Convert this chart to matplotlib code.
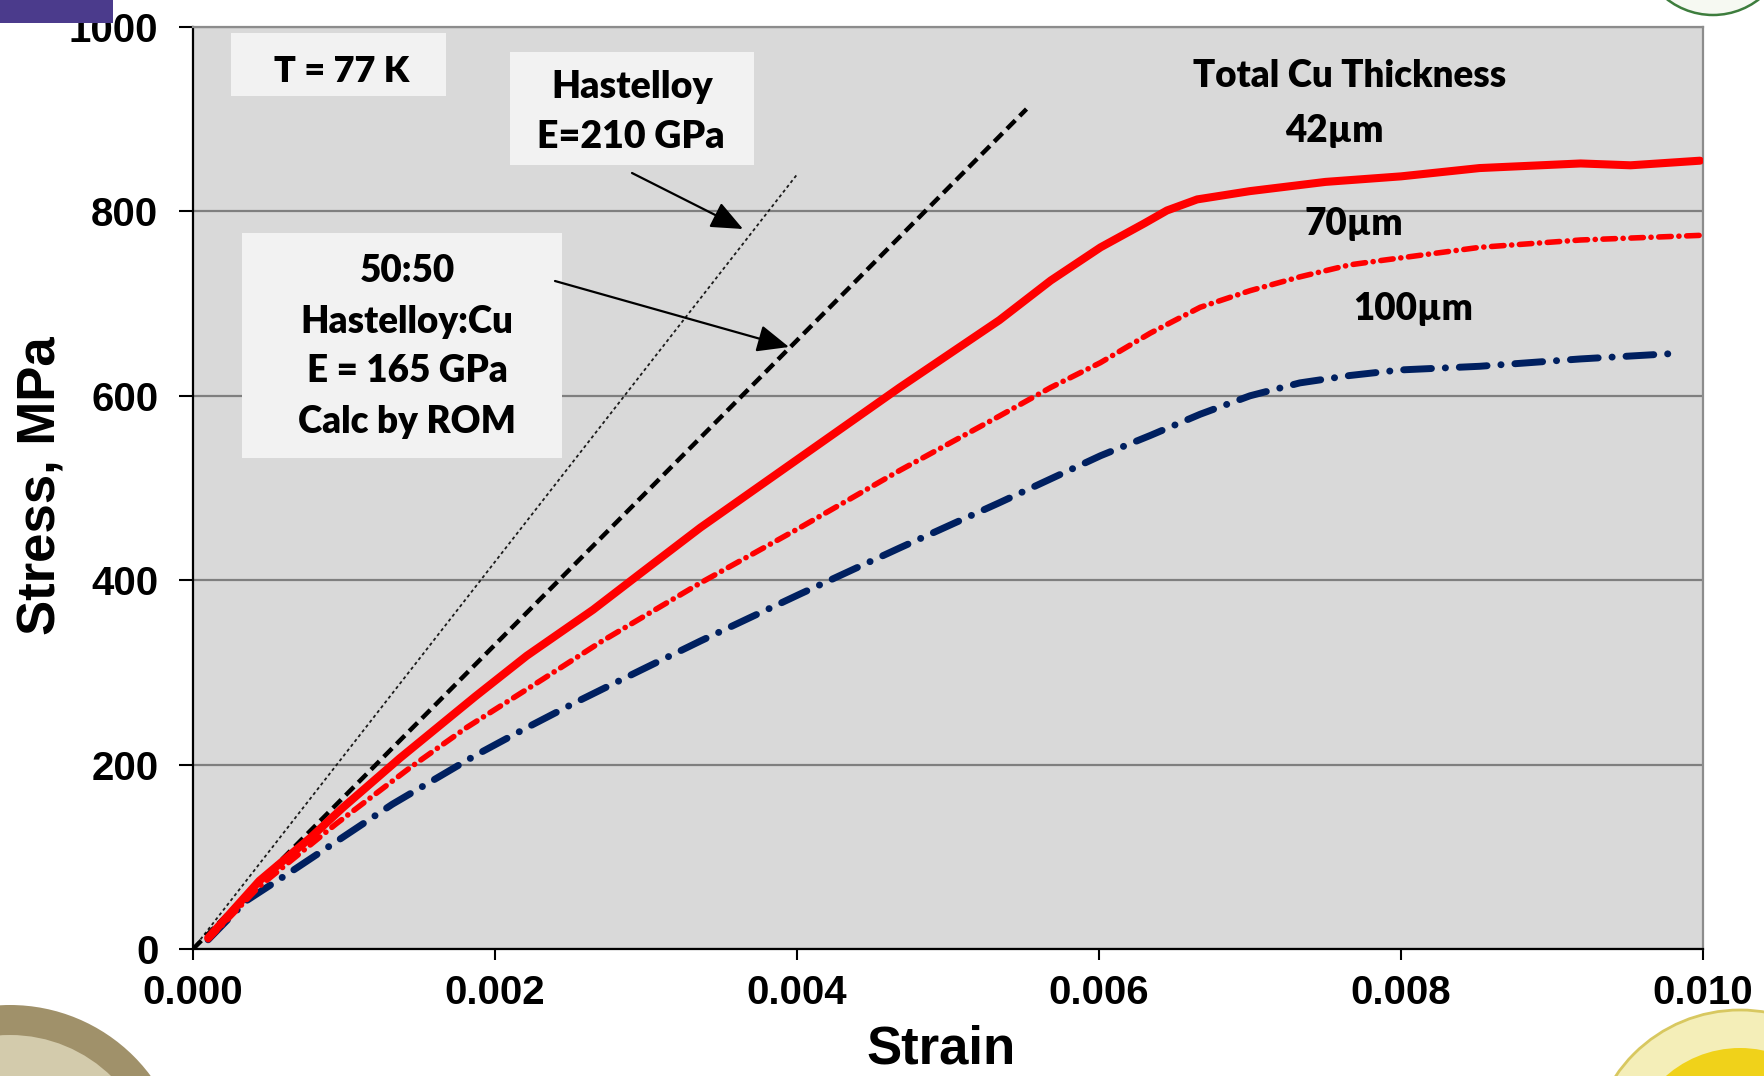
import matplotlib
matplotlib.use('Agg')
import matplotlib.pyplot as plt
from matplotlib.patches import Rectangle, Circle

# ---------------- data ----------------
strain_42 = [0.0001, 0.00044, 0.00078, 0.00099, 0.00137, 0.00187, 0.00221, 0.00265,
             0.00296, 0.00336, 0.00402, 0.00468, 0.00534, 0.00568, 0.00601, 0.00630,
             0.00645, 0.00665, 0.00700, 0.00750, 0.00800, 0.00852, 0.00919, 0.00952,
             0.00998]
stress_42 = [12, 74, 121, 153, 207, 274, 318, 368,
             407, 457, 533, 609, 682, 725, 761, 787,
             801, 813, 822, 832, 838, 847, 852, 850,
             855]

strain_70 = [0.0001, 0.00044, 0.00095, 0.00144, 0.00181, 0.00232, 0.00270, 0.00336,
             0.00402, 0.00468, 0.00534, 0.00568, 0.00601, 0.00634, 0.00667, 0.00700,
             0.00733, 0.00766, 0.00788, 0.00852, 0.00919, 0.00998]
stress_70 = [10, 68, 136, 197, 240, 293, 333, 397,
             457, 519, 578, 609, 636, 668, 696, 714,
             729, 742, 747, 761, 769, 774]

strain_100 = [0.0001, 0.00035, 0.00066, 0.00099, 0.00132, 0.00187, 0.00221, 0.00254,
              0.00296, 0.00336, 0.00402, 0.00468, 0.00534, 0.00601, 0.00634, 0.00667,
              0.00700, 0.00733, 0.00766, 0.00799, 0.00852, 0.00919, 0.00982]
stress_100 = [10, 52, 85, 121, 157, 210, 240, 268,
              302, 334, 385, 435, 484, 535, 557, 580,
              600, 614, 622, 628, 632, 640, 646]

hast_strain = [0.0, 0.0040]      # E = 210 GPa
hast_stress = [0, 840]
rom_strain = [0.0, 0.00552]      # E = 165 GPa (ROM)
rom_stress = [0, 911]

x_ticks = [0.000, 0.002, 0.004, 0.006, 0.008, 0.010]
y_ticks = [0, 200, 400, 600, 800, 1000]

# ---------------- figure ----------------
plt.rcParams['lines.scale_dashes'] = False
W, H = 1765, 1076
L, T, R, B = 193, 27, 1703, 949
fig = plt.figure(figsize=(W / 100, H / 100), dpi=100)
fig.patch.set_facecolor('white')
ax = fig.add_axes([L / W, 1 - B / H, (R - L) / W, (B - T) / H])
ax.set_facecolor('#d9d9d9')
ax.set_xlim(0, 0.010)
ax.set_ylim(0, 1000)


def A(px, py):
    return ((px - L) / (R - L), (B - py) / (B - T))


tick_font = dict(family='Liberation Sans', weight='bold', size=29)
ax.set_xticks(x_ticks)
ax.set_xticklabels([f"{v:.3f}" for v in x_ticks], **tick_font)
ax.set_yticks(y_ticks)
ax.set_yticklabels([str(v) for v in y_ticks], **tick_font)
ax.tick_params(axis='y', direction='out', length=10, width=1.5, pad=15, color='black')
ax.tick_params(axis='x', direction='out', length=8, width=1.5, pad=10, color='black')

for s in ['left', 'bottom']:
    ax.spines[s].set_color('black')
    ax.spines[s].set_linewidth(1.6)
for s in ['top', 'right']:
    ax.spines[s].set_color('#8c8c8c')
    ax.spines[s].set_linewidth(1.6)

ax.yaxis.grid(True, color='#7f7f7f', lw=1.6)
ax.set_axisbelow(True)

# annotation boxes
box_c = '#f2f2f2'
for (x0, y0, x1, y1) in [(231, 33, 446, 96), (510, 52, 754, 165), (242, 233, 562, 458)]:
    ax.add_patch(Rectangle(A(x0, y1), (x1 - x0) / (R - L), (y1 - y0) / (B - T),
                           transform=ax.transAxes, facecolor=box_c, edgecolor='none',
                           zorder=1.5))

# modulus lines
ax.plot(hast_strain, hast_stress, color='#1a1a1a', lw=1.3, dashes=(2.3, 2.1), zorder=3)
ax.plot(rom_strain, rom_stress, color='black', lw=3.2, dashes=(8.5, 4.5), zorder=3)

# curves
ax.plot(strain_100, stress_100, color='#002060', lw=5, dashes=(20, 10, 0.1, 10),
        dash_capstyle='round', zorder=4)
ax.plot(strain_70, stress_70, color='#ff0000', lw=4, dashes=(9, 5.5, 0.1, 5.5),
        dash_capstyle='round', zorder=4)
ax.plot(strain_42, stress_42, color='#ff0000', lw=5.8, solid_capstyle='round',
        solid_joinstyle='round', zorder=5)

# texts
tf = dict(family=['Lato', 'DejaVu Sans'], weight='heavy', color='black',
          ha='center', va='baseline', transform=ax.transAxes, zorder=6)
ax.text(*A(342, 82), 'T = 77 K', fontsize=26, **tf)
ax.text(*A(632, 98), 'Hastelloy', fontsize=27, **tf)
ax.text(*A(631, 148), 'E=210 GPa', fontsize=27, **tf)
ax.text(*A(407, 282), '50:50', fontsize=26.5, **tf)
ax.text(*A(407, 333), 'Hastelloy:Cu', fontsize=26.5, **tf)
ax.text(*A(407, 382), 'E = 165 GPa', fontsize=26.5, **tf)
ax.text(*A(407, 433), 'Calc by ROM', fontsize=26.5, **tf)
ax.text(*A(1350, 87), 'Total Cu Thickness', fontsize=26.5, **tf)
ax.text(*A(1334, 142), '42µm', fontsize=26.5, **tf)
ax.text(*A(1354, 235), '70µm', fontsize=26.5, **tf)
ax.text(*A(1413, 320), '100µm', fontsize=26.5, **tf)

# arrows
ap = dict(arrowstyle='-|>,head_length=0.7,head_width=0.3', color='black', lw=1.6,
          mutation_scale=28, shrinkA=0, shrinkB=0)
ax.annotate('', xy=A(743, 229), xytext=A(632, 173), xycoords='axes fraction',
            textcoords='axes fraction', arrowprops=ap, zorder=6)
ax.annotate('', xy=A(789, 347), xytext=A(555, 281), xycoords='axes fraction',
            textcoords='axes fraction', arrowprops=ap, zorder=6)

# axis labels
lab = dict(family='Liberation Sans', weight='bold', size=38, color='black')
fig.text(941 / W, 2 / H, 'Strain', ha='center', va='bottom', **lab)
fig.text(56 / W, 1 - 486 / H, 'Stress, MPa', ha='center', va='baseline',
         rotation=90, rotation_mode='anchor', **lab)

# slide decorations (logos, approximated)
fig.add_artist(Rectangle((0, 1 - 23 / H), 113 / W, 23 / H, transform=fig.transFigure,
                         facecolor='#4b3b8c', edgecolor='none', zorder=10))


def fig_circle(cx, cy, r, **kw):
    c = Circle((cx, H - cy), r, transform=None, **kw)
    fig.add_artist(c)
    return c


fig_circle(10, 1180, 175, facecolor='#a0916a', edgecolor='none', zorder=10)
fig_circle(10, 1180, 145, facecolor='#d3cbac', edgecolor='none', zorder=10)
fig_circle(1740, 1160, 150, facecolor='#f4eeb8', edgecolor='#d8c860', lw=2, zorder=10)
fig_circle(1740, 1160, 112, facecolor='#f0d21a', edgecolor='none', zorder=10)
fig_circle(1713, -60, 75, facecolor='#f6f9f2', edgecolor='#3d7d3d', lw=1.8, zorder=10)

fig.savefig('out.png', dpi=100, facecolor='white')
